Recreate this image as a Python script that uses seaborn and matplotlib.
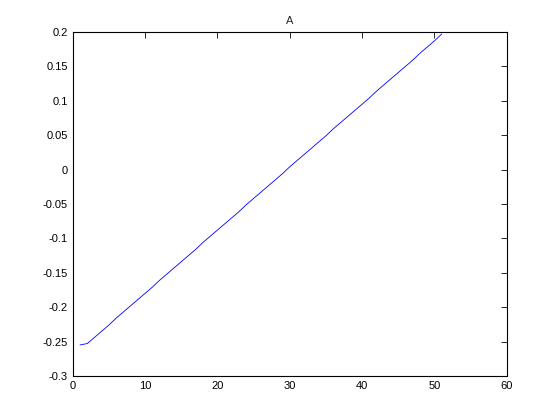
import numpy as np
import pandas as pd
import matplotlib
matplotlib.use("Agg")
import matplotlib.pyplot as plt
import seaborn as sns

# values, one per integer step
x = list(range(1, 52))
y = [-0.255, -0.253, -0.244, -0.235, -0.226, -0.216, -0.207, -0.198, -0.189, -0.180,
     -0.171, -0.161, -0.152, -0.143, -0.134, -0.125, -0.116, -0.106, -0.097, -0.088,
     -0.079, -0.070, -0.061, -0.051, -0.042, -0.033, -0.024, -0.015, -0.006, 0.004,
     0.013, 0.022, 0.031, 0.040, 0.049, 0.059, 0.068, 0.077, 0.086, 0.095,
     0.104, 0.114, 0.123, 0.132, 0.141, 0.150, 0.159, 0.169, 0.178, 0.187,
     0.197]
xticks = [0, 10, 20, 30, 40, 50, 60]
yticks = [-0.3, -0.25, -0.2, -0.15, -0.1, -0.05, 0, 0.05, 0.1, 0.15, 0.2]
yticklabels = ["-0.3", "-0.25", "-0.2", "-0.15", "-0.1", "-0.05", "0",
               "0.05", "0.1", "0.15", "0.2"]

sns.set_style("white")
plt.rcParams["font.family"] = ["Liberation Sans", "DejaVu Sans"]
plt.rcParams["font.size"] = 8

df = pd.DataFrame({"x": x, "y": y})

fig = plt.figure(figsize=(5.6, 4.2), dpi=100)
ax = fig.add_axes([0.13, 0.105, 0.775, 0.819])
sns.lineplot(data=df, x="x", y="y", ax=ax, color="#0000ff", linewidth=0.6)

ax.set_xlim(0, 60)
ax.set_ylim(-0.3, 0.2)
ax.set_xticks(xticks)
ax.set_yticks(yticks)
ax.set_yticklabels(yticklabels)
ax.set_xlabel("")
ax.set_ylabel("")
ax.set_title("A", fontsize=8)
ax.tick_params(direction="in", length=4, width=0.6, top=True, right=True,
               labelsize=8, colors="black")
for s in ax.spines.values():
    s.set_linewidth(0.8)
    s.set_color("black")

fig.savefig("out.png", dpi=100)
